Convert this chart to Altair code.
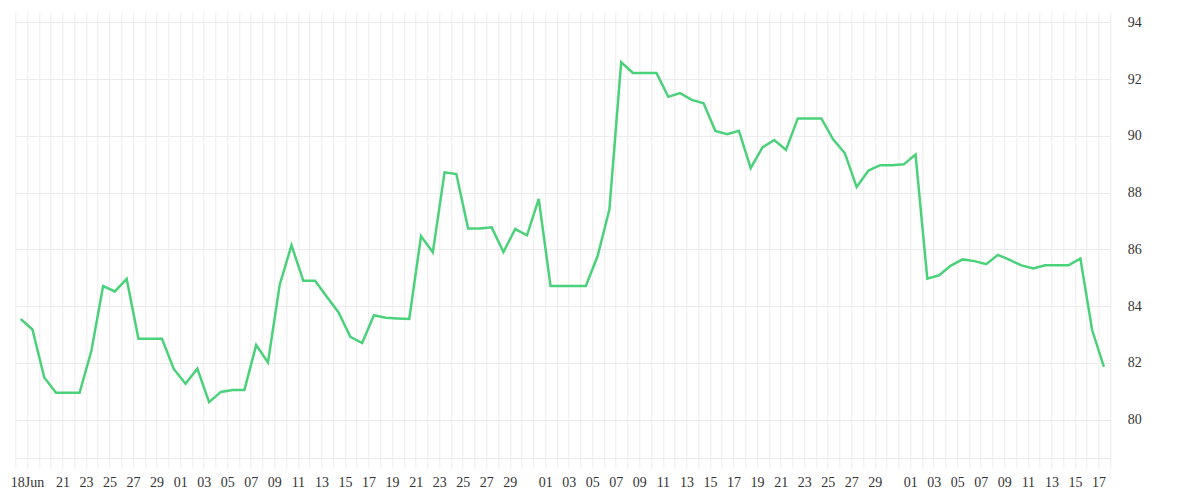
import altair as alt
import pandas as pd

# ---- data ----
START_DATE = "2024-06-17"
VALUES = [
    83.55, 83.18, 81.49, 80.95, 80.95, 80.95, 82.42, 84.71, 84.52, 84.96,
    82.85, 82.85, 82.85, 81.79, 81.27, 81.80, 80.62, 80.98, 81.05, 81.05,
    82.63, 82.02, 84.76, 86.15, 84.90, 84.90, 84.33, 83.78, 82.92, 82.70,
    83.68, 83.59, 83.57, 83.55, 86.47, 85.90, 88.72, 88.66, 86.74, 86.74,
    86.78, 85.91, 86.72, 86.50, 87.78, 84.71, 84.71, 84.71, 84.71, 85.77,
    87.42, 92.60, 92.22, 92.22, 92.22, 91.38, 91.51, 91.27, 91.15, 90.18,
    90.06, 90.18, 88.87, 89.60, 89.86, 89.51, 90.62, 90.62, 90.62, 89.88,
    89.39, 88.20, 88.78, 88.97, 88.97, 89.00, 89.35, 84.97, 85.09, 85.43,
    85.65, 85.59, 85.48, 85.81, 85.63, 85.44, 85.33, 85.44, 85.44, 85.44,
    85.68, 83.16, 81.86,
]

# x tick labels (month-day key -> text)
X_LABEL_KEYS = (
    ["06-18", "06-21", "06-23", "06-25", "06-27", "06-29"]
    + ["07-%02d" % d for d in [1, 3, 5, 7, 9, 11, 13, 15, 17, 19, 21, 23, 25, 27, 29]]
    + ["08-%02d" % d for d in [1, 3, 5, 7, 9, 11, 13, 15, 17, 19, 21, 23, 25, 27, 29]]
    + ["09-%02d" % d for d in [1, 3, 5, 7, 9, 11, 13, 15, 17]]
)
X_LABEL_TEXT = ["18Jun"] + [k[-2:] for k in X_LABEL_KEYS[1:]]
Y_TICKS = [80, 82, 84, 86, 88, 90, 92, 94]

# ---- build table ----
dates = pd.date_range(START_DATE + " 11:00", periods=len(VALUES), freq="D", tz="UTC")
df = pd.DataFrame({"date": [d.strftime("%Y-%m-%dT%H:%M:%SZ") for d in dates], "value": VALUES})

grid_days = pd.date_range("2024-06-17", "2024-09-18", freq="D", tz="UTC")
grid_ms = [int(d.timestamp() * 1000) for d in grid_days]

keys_js = "[" + ",".join("'%s'" % k for k in X_LABEL_KEYS) + "]"
text_js = "[" + ",".join("'%s'" % t for t in X_LABEL_TEXT) + "]"
label_expr = (
    "indexof(%s, utcFormat(datum.value, '%%m-%%d')) >= 0 ? "
    "%s[indexof(%s, utcFormat(datum.value, '%%m-%%d'))] : ''" % (keys_js, text_js, keys_js)
)

GRID = "#ececec"
FONT = "Liberation Serif, Times New Roman, serif"

chart = (
    alt.Chart(df)
    .mark_line(color="#4cd17b", strokeWidth=2.5)
    .encode(
        x=alt.X(
            "date:T",
            scale=alt.Scale(
                type="utc",
                domain=[grid_ms[0], grid_ms[-1]],
                nice=False,
            ),
            axis=alt.Axis(
                title=None,
                values=grid_ms,
                labelExpr=label_expr,
                labelOverlap=False,
                labelFlush=False,
                labelAlign="center",
                labelFont=FONT,
                labelFontSize=14,
                labelColor="#333333",
                labelPadding=8,
                grid=True,
                gridColor=GRID,
                gridWidth=1,
                tickColor=GRID,
                tickSize=10,
                domainColor=GRID,
            ),
        ),
        y=alt.Y(
            "value:Q",
            scale=alt.Scale(domain=[78.65, 94.37], nice=False, zero=False),
            axis=alt.Axis(
                title=None,
                orient="right",
                values=Y_TICKS,
                ticks=False,
                domain=False,
                labelFont=FONT,
                labelFontSize=14,
                labelColor="#333333",
                labelPadding=17,
                grid=True,
                gridColor=GRID,
                gridWidth=1,
            ),
        ),
    )
    .properties(
        width=1095,
        height=446,
        autosize=alt.AutoSizeParams(type="none"),
        padding={"left": 7.3, "top": 4, "right": 80, "bottom": 32},
    )
    .configure_view(stroke=None)
)

chart.save("out.html", embed_options={"renderer": "svg", "actions": False})
